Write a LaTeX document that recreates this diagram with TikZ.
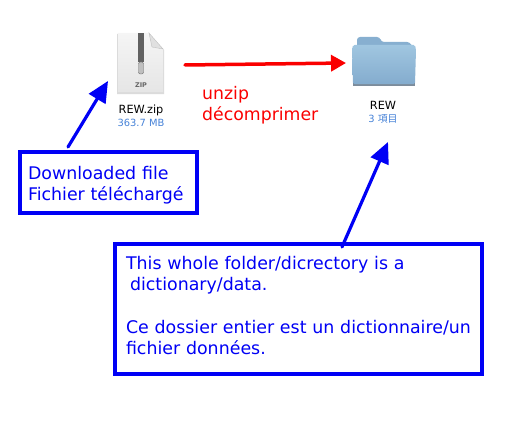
\documentclass[tikz,border=0pt]{standalone}
\usepackage{fontspec}
\setmainfont{DejaVu Sans}
\newfontfamily\cjk{Noto Sans CJK SC}
\usetikzlibrary{calc,arrows.meta}
\definecolor{bluenote}{RGB}{0,0,245}
\definecolor{redarrow}{RGB}{250,0,0}
\definecolor{sizeblue}{RGB}{70,130,215}
\definecolor{foldertab}{RGB}{135,175,208}
\definecolor{foldertop}{RGB}{160,198,224}
\definecolor{folderlow}{RGB}{132,172,206}
\definecolor{folderedge}{RGB}{125,140,155}
\tikzset{
	notebox/.style={draw=bluenote,line width=4pt,text=bluenote,align=left,font=\fontsize{17.4}{21.3}\selectfont},
	notearrow/.style={draw=bluenote,line width=3.2pt,line cap=round,-{Triangle[length=21pt,width=19pt]}},
	iconname/.style={inner sep=0pt,font=\fontsize{11.3}{13}\selectfont},
	iconsize/.style={inner sep=0pt,text=sizeblue,font=\fontsize{9.9}{12}\selectfont}
}
\begin{document}
\begin{tikzpicture}[x=1pt,y=-1pt]
		\useasboundingbox (0,0) rectangle (522,428);
		
		% fichier zip
		\fill[black!14] (117,34)--(149,34)--(164,50)--(164,94)--(117,94)--cycle;
		\shade[top color=black!4,bottom color=black!10] (118,33)--(149,33)--(163,49)--(163,92)--(118,92)--cycle;
		\fill[black!62] (138,33) rectangle (144,62);
		\filldraw[draw=black!60,fill=black!25,rounded corners=2pt] (138.5,62)--(143.5,62)--(143.5,74)--(138.5,74)--cycle;
		\fill[black!12,draw=black!25] (149,33)--(163,49)--(152,47)--cycle;
		\node[inner sep=0pt,text=black!60,font=\bfseries\fontsize{6.5}{8}\selectfont] (ziplabel) at (141,85) {ZIP};
		\node[iconname] (zipname) at (141,110) {REW.zip};
		\node[iconsize] (zipsize) at (141,123) {363.7 MB};
		
		% dossier
		\fill[folderedge] (353,60) rectangle (415,85.5);
		\fill[foldertab,rounded corners=3pt] (357,50)--(357,37)--(380,37)--(381,42)--(410,42)--(414,50)--cycle;
		\shade[top color=foldertop,bottom color=folderlow,rounded corners=1.5pt] (353,45)--(415,45)--(416,50)--(415,84)--(353,84)--(352,50)--cycle;
		\node[iconname] (foldername) at (383,105) {REW};
		\node[iconsize] (foldersize) at (383,119) {3 {\cjk 項目}};
		
		% fleche rouge
		\coordinate (ziparrow) at (185,65);
		\coordinate (folderarrow) at (346,63);
		\draw[redarrow,line width=3.5pt,line cap=round,-{Triangle[length=15pt,width=16pt]}] (ziparrow)--(folderarrow);
		\node[anchor=west,inner sep=0pt,text=redarrow,align=left,font=\fontsize{17.3}{21}\selectfont] (unziptext) at (202,105) {unzip\\décomprimer};
		
		% boites
		\node[notebox,inner xsep=8.5pt,inner ysep=0pt,text width=160.5pt,minimum height=61pt] (dlbox) at (108.25,182.5) {\rule{0pt}{19.2pt}Downloaded file\\Fichier téléchargé};
		\node[notebox,inner xsep=11pt,inner ysep=0pt,text width=345pt,minimum height=130pt] (folderbox) at (298.5,309) {This whole folder/dicrectory is a\\\hspace*{4pt}dictionary/data.\\[21pt]Ce dossier entier est un dictionnaire/un\\fichier données.\rule[-7pt]{0pt}{7pt}};
		
		% fleches bleues
		\coordinate (dlstart) at (68,147);
		\coordinate (dltip) at (108,81);
		\coordinate (folderstart) at (342,247);
		\coordinate (foldertip) at (388,142);
		\draw[notearrow] (dlstart)--(dltip);
		\draw[notearrow] (folderstart)--(foldertip);
	\end{tikzpicture}
\end{document}
